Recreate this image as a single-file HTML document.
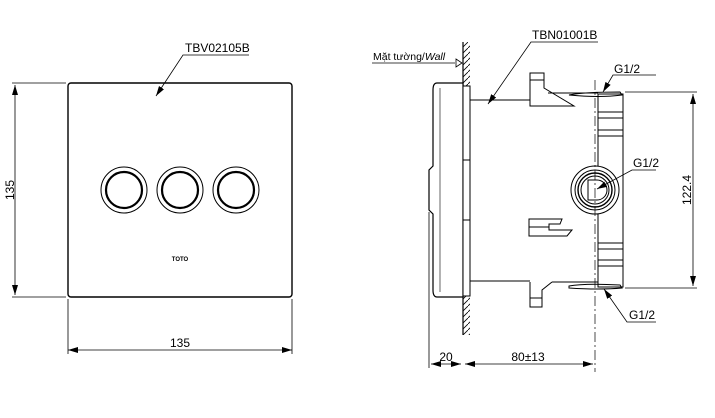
<!DOCTYPE html>
<html><head><style>html,body{margin:0;padding:0;background:#fff}svg{display:block}text{font-family:"Liberation Sans",sans-serif;fill:#000}</style></head><body>
<svg width="715" height="418" viewBox="0 0 715 418" xmlns="http://www.w3.org/2000/svg">
<defs>
<marker id="a" viewBox="0 0 10 6" refX="10" refY="3" markerWidth="10" markerHeight="6" orient="auto-start-reverse" markerUnits="userSpaceOnUse"><path d="M0,0L10,3L0,6z" fill="#000"/></marker>
<pattern id="h" width="6" height="6" patternUnits="userSpaceOnUse"><path d="M-1,7L7,-1" stroke="#000" stroke-width="0.8"/></pattern>
</defs>
<g fill="none" stroke="#000" stroke-width="1">
<!-- left view -->
<rect x="68" y="83" width="224" height="214" rx="3" stroke-width="1.4"/>
<g stroke-width="1"><circle cx="124" cy="190" r="23"/><circle cx="180" cy="190" r="23"/><circle cx="236" cy="190" r="23"/></g>
<g stroke-width="2.2"><circle cx="124" cy="190" r="18"/><circle cx="180" cy="190" r="18"/><circle cx="236" cy="190" r="18"/></g>
<line x1="12" y1="83" x2="66" y2="83" stroke-width="0.8"/>
<line x1="12" y1="297" x2="66" y2="297" stroke-width="0.8"/>
<line x1="15" y1="85" x2="15" y2="295" marker-start="url(#a)" marker-end="url(#a)" stroke-width="0.8"/>
<line x1="68" y1="299" x2="68" y2="354" stroke-width="0.8"/>
<line x1="292" y1="299" x2="292" y2="354" stroke-width="0.8"/>
<line x1="68" y1="350" x2="292" y2="350" marker-start="url(#a)" marker-end="url(#a)" stroke-width="0.8"/>
<polyline points="249,55 183,55 156,96" stroke-width="0.8" marker-end="url(#a)"/>
<!-- right view -->
<line x1="463" y1="42" x2="463" y2="335" stroke-width="1.2"/>
<rect x="463" y="42" width="7" height="293" fill="url(#h)" stroke="none"/>
<path d="M437,83 L463,83 L463,297 L437,297 Q433,297 433,290 L433,214 L429,210 L429,170 L433,166 L433,90 Q433,83 437,83Z" fill="#fff" stroke-width="1.2"/>
<line x1="440" y1="88" x2="440" y2="292" stroke-width="0.6"/>
<rect x="463" y="86" width="7" height="210" fill="#fff" stroke-width="1"/>
<line x1="463" y1="160" x2="470" y2="160"/><line x1="463" y1="220" x2="470" y2="220"/>
<line x1="470" y1="100" x2="530" y2="100"/>
<line x1="470" y1="281" x2="530" y2="281"/>
<!-- top tab -->
<path d="M530,106 L530,73 L544,73 L544,88 L574,106 Z"/><line x1="530" y1="80" x2="544" y2="80"/>
<line x1="548" y1="93" x2="598" y2="93"/>
<path d="M569,95 Q585,92 620,92 L622,95 Q600,98 569,95Z"/>
<!-- mid tab -->
<path d="M529,219 L549,219 L562,219 L560,224 L549,224 L549,230 L572,230 L567,236 L529,236Z"/><line x1="529" y1="227" x2="549" y2="227"/>
<!-- bottom tab -->
<path d="M530,282 L530,307 L542,307 L542,290 L552,282"/><line x1="530" y1="298" x2="542" y2="298"/>
<line x1="552" y1="282" x2="598" y2="282"/>
<path d="M569,286 Q585,283 620,285 L622,288 Q600,290 569,288Z"/>
<!-- right body -->
<rect x="598" y="94" width="25" height="193"/>
<line x1="598" y1="112" x2="623" y2="112"/><line x1="598" y1="118" x2="623" y2="118"/><line x1="598" y1="130" x2="623" y2="130"/><line x1="598" y1="136" x2="623" y2="136"/>
<line x1="598" y1="243" x2="623" y2="243"/><line x1="598" y1="249" x2="623" y2="249"/><line x1="598" y1="260" x2="623" y2="260"/><line x1="598" y1="266" x2="623" y2="266"/>
<!-- port -->
<circle cx="595" cy="190" r="24" fill="#fff"/><circle cx="595" cy="190" r="20"/><circle cx="595" cy="190" r="17" stroke-width="1.4"/><circle cx="595" cy="190" r="14"/>
<path d="M588,180 L597,180 A10,10 0 0 1 597,200 L588,200Z"/>
<line x1="595" y1="80" x2="595" y2="372" stroke-width="0.7" stroke-dasharray="10,3,2,3"/>
<!-- dims right -->
<line x1="625" y1="92" x2="697" y2="92" stroke-width="0.8"/>
<line x1="625" y1="288" x2="697" y2="288" stroke-width="0.8"/>
<line x1="693" y1="94" x2="693" y2="286" marker-start="url(#a)" marker-end="url(#a)" stroke-width="0.8"/>
<line x1="429" y1="212" x2="429" y2="368" stroke-width="0.8"/>
<line x1="431" y1="364" x2="461" y2="364" marker-start="url(#a)" marker-end="url(#a)" stroke-width="0.8"/>
<line x1="465" y1="364" x2="593" y2="364" marker-start="url(#a)" marker-end="url(#a)" stroke-width="0.8"/>
<!-- leaders -->
<polyline points="598,42 531,42 488,104" stroke-width="0.8" marker-end="url(#a)"/>
<polyline points="372,63 455,63" stroke-width="0.8"/>
<path d="M456,59 L462,63 L456,67Z" stroke-width="0.8"/>
<polyline points="656,75 613,75 603,92" stroke-width="0.8" marker-end="url(#a)"/>
<polyline points="656,170 632,170 597,189" stroke-width="0.8" marker-end="url(#a)"/>
<polyline points="656,322 627,322 604,289" stroke-width="0.8" marker-end="url(#a)"/>
</g>
<text x="185" y="52" font-size="12">TBV02105B</text>
<text x="180" y="261" font-size="6" font-weight="bold" text-anchor="middle" font-family="Liberation Serif">TOTO</text>
<text x="180" y="347" font-size="12" text-anchor="middle">135</text>
<text transform="translate(14,190) rotate(-90)" font-size="12" text-anchor="middle">135</text>
<text x="532" y="39" font-size="12">TBN01001B</text>
<text x="373" y="60" font-size="10.5">Mặt tường/<tspan font-style="italic">Wall</tspan></text>
<text x="614" y="73" font-size="12">G1/2</text>
<text x="633" y="167" font-size="12">G1/2</text>
<text x="629" y="319" font-size="12">G1/2</text>
<text transform="translate(691,190) rotate(-90)" font-size="12" text-anchor="middle">122.4</text>
<text x="446" y="361" font-size="12" text-anchor="middle">20</text>
<text x="528" y="361" font-size="12" text-anchor="middle">80±13</text>
</svg>
</body></html>
